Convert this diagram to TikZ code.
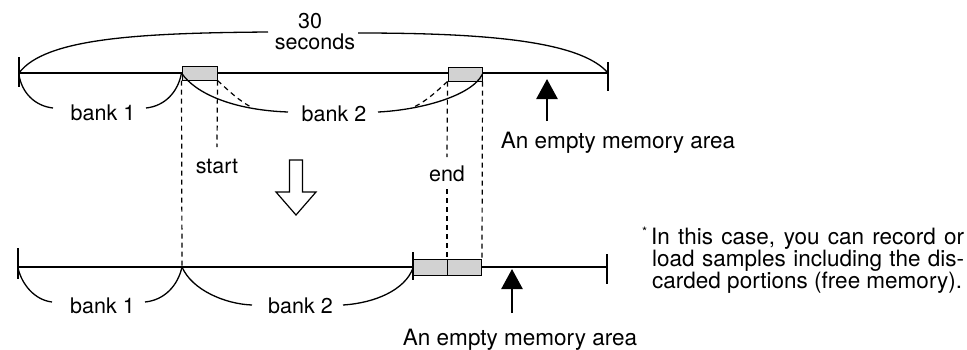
\documentclass[tikz,border=0pt]{standalone}
\usepackage{fontspec}
\setmainfont{TeX Gyre Heros}
\usetikzlibrary{arrows.meta}
\begin{document}
\begin{tikzpicture}[x=1pt,y=-1pt,
  lbl/.style={inner sep=0pt, anchor=base, font=\fontsize{21.5}{25}\selectfont},
  big/.style={inner sep=0pt, anchor=base, font=\fontsize{22.5}{26}\selectfont},
  ln/.style={line width=1.3pt},
  tick/.style={line width=1.7pt},
  dsh/.style={line width=1.2pt, dash pattern=on 5pt off 4pt},
  seg/.style={draw=black, line width=1pt, fill=gray!35, inner sep=0pt},
  uparrow/.style={line width=2.6pt, -{Triangle[length=20pt,width=21pt]}},
]
\useasboundingbox (0,0) rectangle (967,349);

% ---------------- top row ----------------
\coordinate (TL) at (19,73);
\coordinate (TR) at (608,73);
\draw[ln] (TL) -- (TR);
\draw[tick] (19,57) -- (19,87);
\draw[tick] (608,62) -- (608,91);
\node[seg, minimum width=35pt, minimum height=14pt] (b1) at (199.5,73) {};
\node[seg, minimum width=34pt, minimum height=14pt] (b2) at (465,74) {};

% 30 seconds
\node[lbl] (t30) at (310,28) {30};
\node[lbl] (tsec) at (315,49.5) {seconds};
\coordinate (brL) at (268,32);
\coordinate (brR) at (358,33);
\draw[ln] (TL) .. controls (45,38) and (140,33) .. (brL);
\draw[ln] (brR) .. controls (480,33) and (580,40) .. (TR);

% bank 1 (top)
\node[lbl] (tb1) at (103,120) {bank 1};
\draw[ln] (19,75) .. controls (22,93) and (35,106) .. (53,108);
\draw[ln] (146,108) .. controls (165,106) and (178,92) .. (b1.west);
% bank 2 (top)
\node[lbl] (tb2) at (334,121) {bank 2};
\draw[ln] (b1.west) .. controls (195,93) and (232,110) .. (288,112);
\draw[ln] (378,112) .. controls (420,110) and (472,96) .. (b2.east);
\draw[dsh] (b1.south east) .. controls (228,90) and (238,100) .. (251,107);
\draw[dsh] (b2.south west) .. controls (438,90) and (428,100) .. (414,107);

% empty memory arrow (top)
\node[big] (em1) at (618,148) {An empty memory area};
\draw[uparrow] (547,121) -- (547,79);

% dashed guides
\node[lbl] (tstart) at (217,173) {start};
\node[lbl] (tend) at (447,181) {end};
\draw[dsh] (b1.south west) -- (182,266);
\draw[dsh] (b1.south east) -- (217,147);
\draw[dsh] (b2.south west) -- (447,157);
\draw[dsh] (447,189) -- (447,259);
\draw[dsh] (b2.south east) -- (482,259);

% hollow arrow down
\draw[line width=1.2pt, fill=white]
  (289.5,160) -- (302.5,160) -- (302.5,192) -- (316,192) -- (296,215)
  -- (276,192) -- (289.5,192) -- cycle;

% ---------------- bottom row ----------------
\coordinate (BL) at (18,267);
\coordinate (BR) at (607,267);
\draw[ln] (BL) -- (BR);
\draw[tick] (18,248) -- (18,279);
\draw[tick] (607,254) -- (607,284);
\node[seg, minimum width=34pt, minimum height=16pt] (c1) at (430,267) {};
\node[seg, minimum width=34pt, minimum height=16pt] (c2) at (464,267) {};
\draw[line width=1.2pt] (413,252) -- (413,280);

\node[lbl] (bb1) at (102.5,313) {bank 1};
\draw[ln] (18,268) .. controls (22,285) and (35,300) .. (52,302);
\draw[ln] (145,302) .. controls (165,300) and (178,285) .. (182,267);
\node[lbl] (bb2) at (300.5,313) {bank 2};
\draw[ln] (182,267) .. controls (192,290) and (225,304) .. (252,305);
\draw[ln] (343,305) .. controls (375,303) and (405,290) .. (413,268);

\node[big] (em2) at (520,345) {An empty memory area};
\draw[uparrow] (512,313) -- (512,269);

% note
\node[big, anchor=base west] (n1) at (651,244)
  {\llap{\raisebox{.35em}{\fontsize{13}{13}\selectfont *}\hspace{4pt}}\makebox[313pt][s]{In this case, you can record or}};
\node[big, anchor=base west] (n2) at (652,266)
  {\makebox[312pt][s]{load samples including the dis-}};
\node[big, anchor=base west] (n3) at (652,288)
  {carded portions (free memory).};
\end{tikzpicture}
\end{document}
